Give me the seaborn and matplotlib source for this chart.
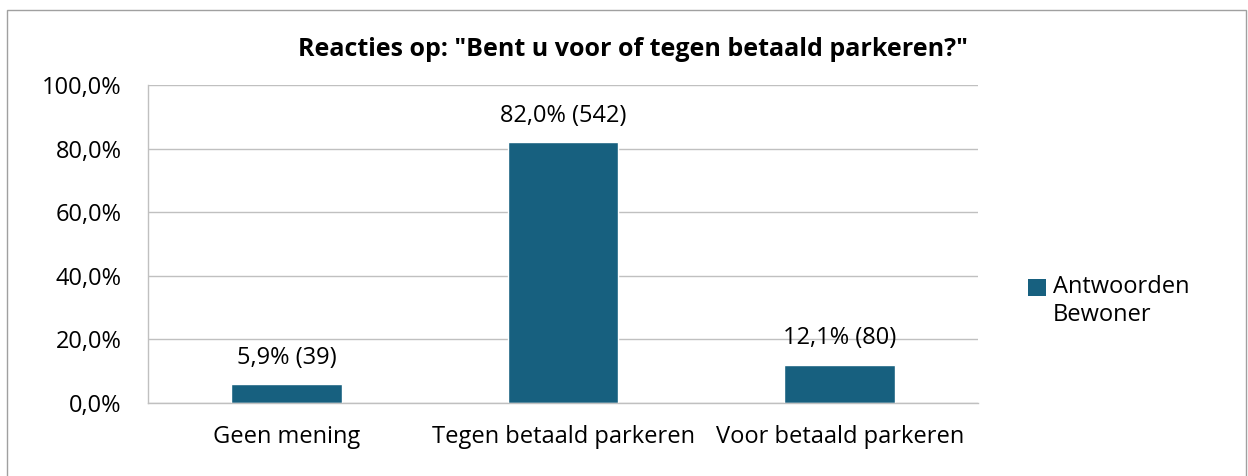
import pandas as pd
import matplotlib
matplotlib.use("Agg")
import matplotlib.pyplot as plt
import seaborn as sns
from matplotlib.patches import Rectangle, Patch
from matplotlib.legend_handler import HandlerPatch

categories = ["Geen mening", "Tegen betaald parkeren", "Voor betaald parkeren"]
percentages = [5.9, 82.0, 12.1]
counts = [39, 542, 80]
series_name = "Antwoorden\nBewoner"
title = 'Reacties op: "Bent u voor of tegen betaald parkeren?"'

bar_color = "#17607f"
grid_color = "#c0c0c0"

sns.set_style("white")
plt.rcParams["font.family"] = ["Open Sans", "DejaVu Sans"]
plt.rcParams["text.color"] = "black"
plt.rcParams["xtick.color"] = "black"
plt.rcParams["ytick.color"] = "black"

df = pd.DataFrame({"categorie": categories, "pct": percentages, "n": counts})

fig = plt.figure(figsize=(12.48, 4.76), dpi=100)
ax = fig.add_axes([148 / 1248, 73 / 476, 830 / 1248, 318 / 476])

sns.barplot(data=df, x="categorie", y="pct", color=bar_color, width=0.4,
            saturation=1, ax=ax)

ax.set_ylim(0, 100)
ax.set_yticks(range(0, 101, 20))
ax.set_yticklabels([f"{v:.1f}%".replace(".", ",") for v in range(0, 101, 20)], fontsize=17)
ax.tick_params(axis="x", labelsize=17, length=0, pad=16)
ax.tick_params(axis="y", length=0, pad=19)
ax.set_xlabel("")
ax.set_ylabel("")
ax.grid(axis="y", color=grid_color, linewidth=1)
ax.set_axisbelow(True)
for side in ["top", "right"]:
    ax.spines[side].set_visible(False)
for side in ["left", "bottom"]:
    ax.spines[side].set_color(grid_color)
    ax.spines[side].set_linewidth(1)

for i, (p, n) in enumerate(zip(percentages, counts)):
    ax.text(i, p + 4.5, f"{p:.1f}% ({n})".replace(".", ","), ha="center", va="bottom", fontsize=17)

fig.text(0.507, 1 - 50 / 476, title, ha="center", va="center", fontsize=18, fontweight="bold")


def top_square(legend, orig_handle, xdescent, ydescent, width, height, fontsize):
    return Rectangle((-xdescent, -ydescent + 0.6 * fontsize), width, height)


handle = Patch(facecolor=bar_color, edgecolor="none")
ax.legend([handle], [series_name], loc="center left", bbox_to_anchor=(1.035, 0.32),
          frameon=False, fontsize=17, handlelength=0.75, handleheight=0.75,
          handletextpad=0.3, labelspacing=0.5,
          handler_map={Patch: HandlerPatch(patch_func=top_square)})

fig.patches.append(Rectangle((7 / 1248, -0.1), 1239 / 1248, 1.1 - 10 / 476,
                             transform=fig.transFigure, fill=False,
                             edgecolor="#a0a0a0", linewidth=1))

fig.savefig("out.png", dpi=100, facecolor="white")
